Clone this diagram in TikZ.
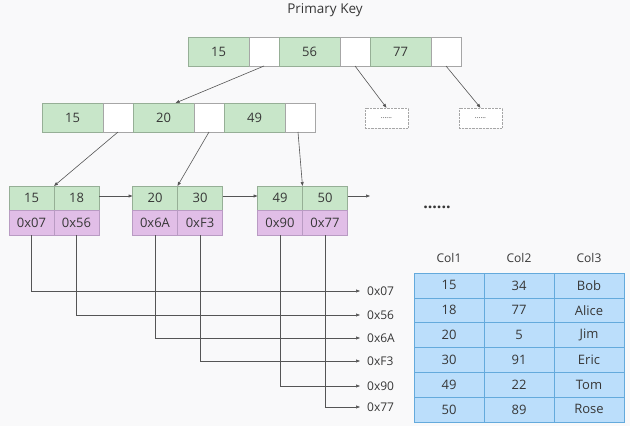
\documentclass[tikz,border=0pt]{standalone}
\usepackage{fontspec}
\setmainfont{Open Sans}
\usetikzlibrary{arrows.meta, positioning}
\definecolor{cGreen}{RGB}{200,230,201}
\definecolor{cGreenLine}{RGB}{150,175,150}
\definecolor{cPurple}{RGB}{225,190,231}
\definecolor{cPurpleLine}{RGB}{185,155,195}
\definecolor{cBlue}{RGB}{187,222,251}
\definecolor{cBlueLine}{RGB}{100,170,220}
\definecolor{cBack}{RGB}{249,249,250}
\definecolor{cArrow}{RGB}{85,85,85}
\definecolor{cText}{RGB}{55,55,55}
\tikzset{
  keycell/.style={rectangle, draw=cGreenLine, fill=cGreen, line width=0.6pt,
                  minimum width=61pt, minimum height=29pt, inner sep=0pt,
                  outer sep=0pt, text=cText, font=\fontsize{13}{15}\selectfont},
  ptrcell/.style={keycell, fill=white, draw=black!35, minimum width=30pt},
  leafkey/.style={keycell, minimum width=45pt, minimum height=24pt},
  leafaddr/.style={leafkey, draw=cPurpleLine, fill=cPurple, minimum height=25pt},
  dotbox/.style={rectangle, draw=gray!70, densely dotted, fill=white,
                 minimum width=43pt, minimum height=20pt, inner sep=0pt,
                 text=cText, font=\fontsize{7}{8}\selectfont},
  tabcell/.style={rectangle, draw=cBlueLine, fill=cBlue, line width=0.6pt,
                  minimum width=70pt, minimum height=24.8pt, inner sep=0pt,
                  outer sep=0pt, text=cText, font=\fontsize{13}{15}\selectfont},
  headlabel/.style={text=cText, font=\fontsize{12}{14}\selectfont},
  addrlabel/.style={anchor=west, inner sep=0pt, text=cText,
                    font=\fontsize{12}{14}\selectfont},
  arrow/.style={-{Triangle[length=4pt,width=3pt]}, color=cArrow, line width=0.6pt},
  addrarrow/.style={arrow, shorten >=7pt}
}
\begin{document}
\begin{tikzpicture}[x=1pt, y=-1pt]

  % -- canvas --
  \useasboundingbox[fill=cBack] (0,0) rectangle (630,426);

  \node[text=cText, font=\fontsize{13.5}{15}\selectfont] (title) at (325,10) {Primary Key};

  % -- root --
  \node[keycell] (r15) at (218.5,51.5) {15};
  \node[ptrcell, right=0pt of r15] (rp1) {};
  \node[keycell, right=0pt of rp1] (r56) {56};
  \node[ptrcell, right=0pt of r56] (rp2) {};
  \node[keycell, right=0pt of rp2] (r77) {77};
  \node[ptrcell, right=0pt of r77] (rp3) {};

  % -- inner node --
  \node[keycell] (s15) at (72.5,117.5) {15};
  \node[ptrcell, right=0pt of s15] (sp1) {};
  \node[keycell, right=0pt of sp1] (s20) {20};
  \node[ptrcell, right=0pt of s20] (sp2) {};
  \node[keycell, right=0pt of sp2] (s49) {49};
  \node[ptrcell, right=0pt of s49] (sp3) {};

  \node[dotbox] (more1) at (386.5,118) {......};
  \node[dotbox] (more2) at (480.5,118) {......};

  % -- leaves --
  \node[leafkey] (l15) at (31.5,198) {15};
  \node[leafkey, right=0pt of l15] (l18) {18};
  \node[leafaddr, below=0pt of l15] (a15) {0x07};
  \node[leafaddr, below=0pt of l18] (a18) {0x56};

  \node[leafkey] (l20) at (155,198) {20};
  \node[leafkey, right=0pt of l20] (l30) {30};
  \node[leafaddr, below=0pt of l20] (a20) {0x6A};
  \node[leafaddr, below=0pt of l30] (a30) {0xF3};

  \node[leafkey] (l49) at (280,198) {49};
  \node[leafkey, right=0pt of l49] (l50) {50};
  \node[leafaddr, below=0pt of l49] (a49) {0x90};
  \node[leafaddr, below=0pt of l50] (a50) {0x77};

  \coordinate (next) at (370,196);
  \node[text=cText, font=\fontsize{16}{16}\bfseries] (etc) at (437,207) {......};

  % -- addresses --
  \node[addrlabel] (p07) at (367,291) {0x07};
  \node[addrlabel] (p56) at (367,315) {0x56};
  \node[addrlabel] (p6A) at (367,338) {0x6A};
  \node[addrlabel] (pF3) at (367,361) {0xF3};
  \node[addrlabel] (p90) at (367,386) {0x90};
  \node[addrlabel] (p77) at (367,407) {0x77};

  % -- table --
  \node[headlabel] (h1) at (449,258) {Col1};
  \node[headlabel] (h2) at (519,258) {Col2};
  \node[headlabel] (h3) at (589,258) {Col3};
  \foreach \a/\b/\c [count=\i] in {15/34/Bob, 18/77/Alice, 20/5/Jim,
                                   30/91/Eric, 49/22/Tom, 50/89/Rose} {
    \node[tabcell] (t\i a) at (449,260.6+24.8*\i) {\a};
    \node[tabcell, right=0pt of t\i a] (t\i b) {\b};
    \node[tabcell, right=0pt of t\i b] (t\i c) {\c};
  }

  % -- arrows --
  \draw[arrow] (rp1.south) -- ([xshift=12pt]s20.north);
  \draw[arrow] (rp2.south) -- (more1.north);
  \draw[arrow] (rp3.south) -- (more2.north);
  \draw[arrow] (sp1.south) -- (l15.north east);
  \draw[arrow] (sp2.south) -- (l20.north east);
  \draw[arrow] ([xshift=-2pt]sp3.south) -- (l49.north east);
  \draw[arrow] ([yshift=2pt]l18.east) -- ([yshift=2pt]l20.west);
  \draw[arrow] ([yshift=2pt]l30.east) -- ([yshift=2pt]l49.west);
  \draw[arrow] ([yshift=2pt]l50.east) -- (next);

  \draw[addrarrow] (a15.south) |- (p07.west);
  \draw[addrarrow] (a18.south) |- (p56.west);
  \draw[addrarrow] (a20.south) |- (p6A.west);
  \draw[addrarrow] (a30.south) |- (pF3.west);
  \draw[addrarrow] (a49.south) |- (p90.west);
  \draw[addrarrow] (a50.south) |- (p77.west);

\end{tikzpicture}
\end{document}
